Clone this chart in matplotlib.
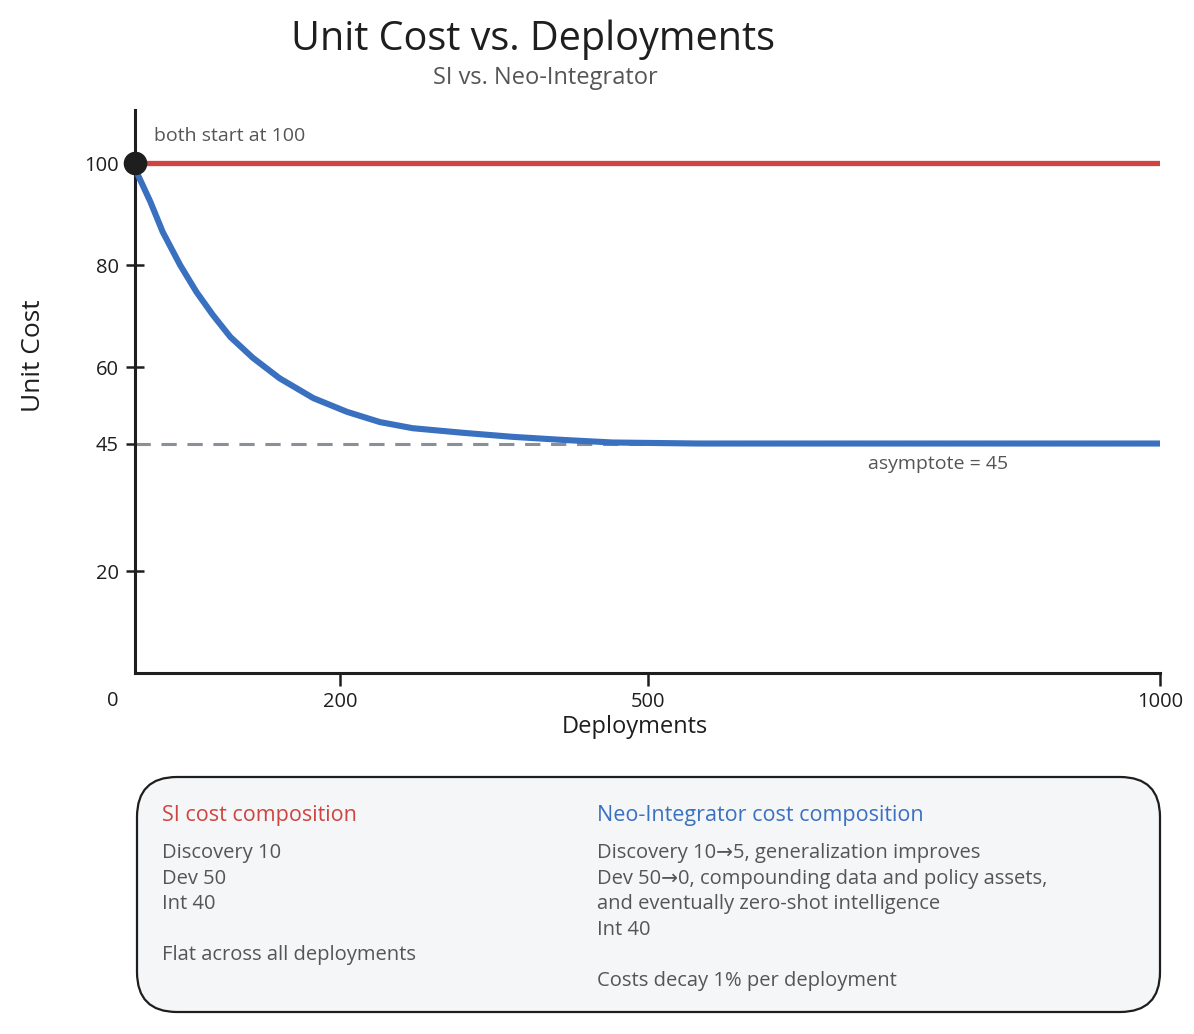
import matplotlib
matplotlib.use("Agg")
import matplotlib.pyplot as plt
from matplotlib.patches import FancyBboxPatch

# ---- data ----
deployments = [0, 3, 15, 27, 44, 60, 76, 93, 115, 141, 174, 207, 239, 271, 320, 369, 418, 466, 550, 650, 800, 1000]
neo_cost    = [100, 97.6, 92.4, 86.5, 80.0, 74.7, 70.2, 65.9, 61.8, 57.8, 53.9, 51.2, 49.2, 48.0, 47.1, 46.3, 45.7, 45.2, 45.0, 45.0, 45.0, 45.0]
si_x        = [0, 1000]
si_cost     = [100, 100]
asymptote   = 45
start_value = 100
yticks      = [20, 45, 60, 80, 100]
xticks      = [200, 500, 1000]

title    = "Unit Cost vs. Deployments"
subtitle = "SI vs. Neo-Integrator"
si_head  = "SI cost composition"
si_lines = ["Discovery 10", "Dev 50", "Int 40", "", "Flat across all deployments"]
neo_head = "Neo-Integrator cost composition"
neo_lines = ["Discovery 10\u21925, generalization improves",
             "Dev 50\u21920, compounding data and policy assets,",
             "and eventually zero-shot intelligence",
             "Int 40", "", "Costs decay 1% per deployment"]

RED = "#d04440"
BLUE = "#3a70c0"
INK = "#1e1e1e"
GRAY = "#555555"

plt.rcParams['font.family'] = ['Open Sans', 'DejaVu Sans']

W, H = 1194, 1034
fig = plt.figure(figsize=(W / 100, H / 100), dpi=100)

# overlay in pixel coordinates for title / notes box
ov = fig.add_axes([0, 0, 1, 1])
ov.set_xlim(0, W)
ov.set_ylim(H, 0)
ov.axis("off")

def px(x0, y0, x1, y1):
    return [x0 / W, 1 - y1 / H, (x1 - x0) / W, (y1 - y0) / H]

ax = fig.add_axes(px(135, 110, 1160, 673))
ax.set_xlim(0, 1000)
ax.set_ylim(0, 110.4)
ax.patch.set_alpha(0)

for s in ["top", "right"]:
    ax.spines[s].set_visible(False)
for s in ["left", "bottom"]:
    ax.spines[s].set_linewidth(2.2)
    ax.spines[s].set_color(INK)

ax.set_yticks(yticks)
ax.set_xticks(xticks)
ax.tick_params(axis="y", direction="inout", length=13, width=1.8, color=INK,
               labelsize=14.5, pad=5, labelcolor=INK)
ax.tick_params(axis="x", direction="out", length=9, width=1.8, color=INK,
               labelsize=14.5, pad=5, labelcolor=INK)

ax.plot([0, 1000], [asymptote, asymptote], ls=(0, (5, 3.5)), color="#8a8f98",
        lw=2.2, zorder=2)
ax.plot(si_x, si_cost, color=RED, lw=3.8, solid_capstyle="round", zorder=3)
ax.plot(deployments, neo_cost, color=BLUE, lw=4.4, solid_capstyle="round",
        solid_joinstyle="round", zorder=4)
ax.plot([0], [start_value], "o", color=INK, ms=16, zorder=6, clip_on=False)

ax.annotate("both start at 100", xy=(0, start_value), xytext=(14, 16),
            textcoords="offset points", fontsize=14, color=GRAY)
ax.annotate("asymptote = 45", xy=(715, asymptote), xytext=(0, -15),
            textcoords="offset points", fontsize=14, color=GRAY, va="center")
ax.annotate("0", xy=(0, 0), xytext=(-16, -20), textcoords="offset points",
            fontsize=14.5, color=INK, ha="center", va="center")

ax.set_xlabel("Deployments", fontsize=17, color=INK, labelpad=0)
ax.xaxis.set_label_coords(0.488, -0.075)
ax.set_ylabel("Unit Cost", fontsize=19, color=INK)
ax.yaxis.set_label_coords(-0.087, 0.563)

# titles
ov.text(533, 40, title, fontsize=28.5, color=INK, ha="center", va="center")
ov.text(545, 78, subtitle, fontsize=17, color=GRAY, ha="center", va="center")

# notes box
box = FancyBboxPatch((137 + 40, 777 + 40), 1160 - 137 - 80, 1012 - 777 - 80,
                     boxstyle="round,pad=40", fc="#f5f6f8", ec=INK, lw=1.6,
                     zorder=1)
ov.add_patch(box)
ov.text(162, 815, si_head, fontsize=15.5, color=RED, va="center", zorder=2)
ov.text(597, 815, neo_head, fontsize=15.5, color=BLUE, va="center", zorder=2)
for i, t in enumerate(si_lines):
    ov.text(162, 853 + i * 25.6, t, fontsize=14.5, color=GRAY, va="center", zorder=2)
for i, t in enumerate(neo_lines):
    ov.text(597, 853 + i * 25.6, t, fontsize=14.5, color=GRAY, va="center", zorder=2)

fig.savefig("out.png", dpi=100, facecolor="white")
